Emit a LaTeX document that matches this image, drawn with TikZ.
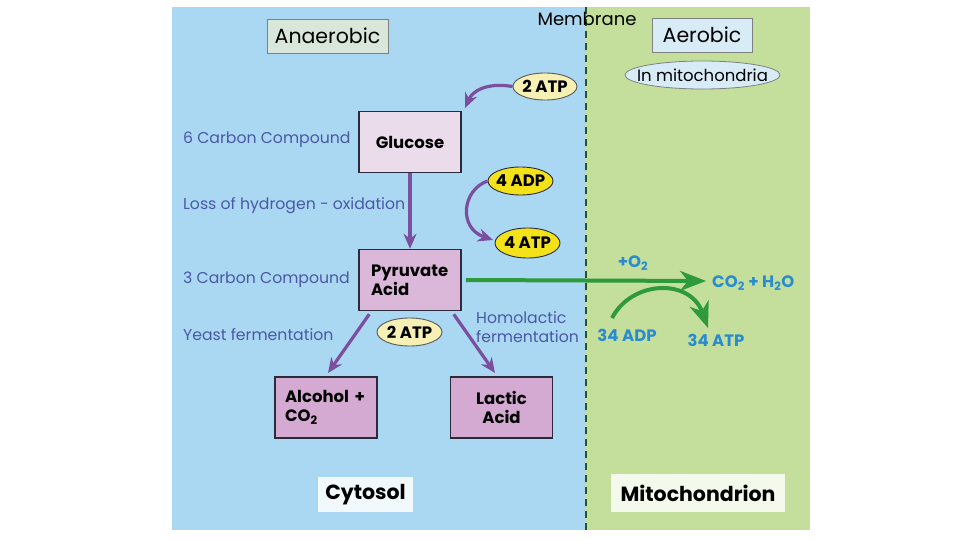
\documentclass[tikz,border=0pt]{standalone}
\usepackage{fontspec}
\setmainfont{Poppins}
\usetikzlibrary{arrows.meta,shapes.geometric}
\definecolor{bgblue}{HTML}{AAD8F2}
\definecolor{bggreen}{HTML}{C3DF9B}
\definecolor{boxpink}{HTML}{EADCEB}
\definecolor{boxmauve}{HTML}{D4A9D2}
\definecolor{lblblue}{HTML}{4A58A6}
\definecolor{cyanblue}{HTML}{2A8CCF}
\definecolor{arrpurple}{HTML}{7B4E9E}
\definecolor{arrgreen}{HTML}{2E9A3C}
\definecolor{paleyellow}{HTML}{F6F0B4}
\definecolor{strongyellow}{HTML}{F3E21A}
\definecolor{paleblue}{HTML}{D7ECF6}
\definecolor{palegreen}{HTML}{D9E7DA}
\definecolor{darkline}{HTML}{2A2A3A}
\tikzset{
  x=1pt,y=-1pt,
  every node/.style={font=\fontsize{12}{14}\selectfont, inner sep=0pt},
  cbox/.style={draw=darkline, line width=1.5pt, minimum width=102pt, minimum height=61pt},
  headbox/.style={draw=gray, line width=0.8pt, font=\fontsize{20.5}{22}\selectfont},
  lbl/.style={text=lblblue, anchor=west, font=\fontsize{15.7}{19}\selectfont},
  blbl/.style={text=cyanblue, font=\fontsize{16.5}{19}\selectfont\bfseries},
  oval/.style={ellipse, draw=gray!70!black, line width=0.9pt},
  ovaltext/.style={font=\fontsize{16.5}{19}\selectfont\bfseries},
  parr/.style={draw=arrpurple, line width=3.2pt, -{Stealth[length=15pt,width=13pt]}},
  garr/.style={draw=arrgreen, line width=4pt, -{Stealth[length=26pt,width=20pt,inset=8pt]}},
  region/.style={font=\fontsize{20.5}{23}\selectfont\bfseries},
  boxtext/.style={font=\fontsize{16.5}{19}\selectfont\bfseries}
}
\begin{document}
\begin{tikzpicture}
\useasboundingbox (0,0) rectangle (960,540);
\fill[white] (0,0) rectangle (960,540);
\fill[bgblue] (172,7) rectangle (586,530);
\fill[bggreen] (586,7) rectangle (810,530);
\draw[darkline!80!green, line width=1.2pt, dash pattern=on 7pt off 5pt] (586,7) -- (586,530);

% headers
\node[headbox, fill=palegreen, minimum width=121pt, minimum height=34pt] (anaer) at (327.5,36) {Anaerobic};
\node[headbox, fill=paleblue, minimum width=100pt, minimum height=34pt] (aer) at (702,35) {Aerobic};
\node[font=\fontsize{18}{20}\selectfont] (memb) at (587,19) {Membrane};
\node[ellipse, draw=gray, line width=0.8pt, fill=paleblue, minimum width=155pt, minimum height=28pt] (inmito) at (702.5,75) {};
\node[font=\fontsize{16.5}{19}\selectfont] (inmitot) at (inmito.center) {In mitochondria};

% boxes
\node[cbox, fill=boxpink, boxtext] (glu) at (410,142) {Glucose};
\node[cbox, fill=boxmauve!70!boxpink, align=left, boxtext, text width=78pt] (pyr) at (410,280) {Pyruvate\\Acid};
\node[cbox, fill=boxmauve, align=left, boxtext, text width=82pt] (alc) at (326,407.5) {Alcohol +\\CO\textsubscript{2}};
\node[cbox, fill=boxmauve, align=center, boxtext] (lac) at (501.5,407.5) {Lactic\\Acid};

% ovals
\node[oval, fill=paleyellow, minimum width=64pt, minimum height=27pt] (atpA) at (545,86.5) {};
\node[ovaltext] (atpAt) at (atpA.center) {2 ATP};
\node[oval, fill=strongyellow, draw=darkline, minimum width=65pt, minimum height=28pt] (adp4) at (520.5,181) {};
\node[ovaltext] (adp4t) at (adp4.center) {4 ADP};
\node[oval, fill=strongyellow, draw=darkline, minimum width=65pt, minimum height=30pt] (atp4) at (527.5,243) {};
\node[ovaltext] (atp4t) at (atp4.center) {4 ATP};
\node[oval, fill=paleyellow, minimum width=65pt, minimum height=28pt] (atpB) at (409.5,332) {};
\node[ovaltext] (atpBt) at (atpB.center) {2 ATP};

% side labels
\node[lbl] (l6c) at (183,140) {6 Carbon Compound};
\node[lbl] (lloss) at (183,206) {Loss of hydrogen - oxidation};
\node[lbl] (l3c) at (183,280) {3 Carbon Compound};
\node[lbl] (lyeast) at (183,335) {Yeast fermentation};
\node[lbl, align=left] (lhomo) at (476,327) {Homolactic\\fermentation};

% aerobic labels
\node[blbl] (o2) at (633,263) {+O\textsubscript{2}};
\node[blbl, anchor=west] (co2) at (712,283) {CO\textsubscript{2} + H\textsubscript{2}O};
\node[blbl] (adp34) at (627,335) {34 ADP};
\node[blbl] (atp34) at (716,340) {34 ATP};

% region labels
\node[region, fill=white!85!bgblue, minimum width=95pt, minimum height=35pt] (cyto) at (365.5,494.5) {Cytosol};
\node[region, fill=white!80!bggreen, minimum width=174pt, minimum height=38pt] (mito) at (698,493) {Mitochondrion};

% purple arrows
\draw[parr] (atpA.west) .. controls (485,82) and (472,92) .. (465,108);
\draw[parr] (adp4.west) .. controls (462,190) and (458,228) .. (493,240);
\draw[parr] (glu.south) -- (pyr.north);
\draw[parr] (pyr.south west) ++(11,3) coordinate (pa) -- (328,373);
\draw[parr] (pyr.south east) ++(-8,3) coordinate (pb) -- (495,373);

% green arrows
\coordinate (gend) at (706,281);
\draw[garr] (pyr.east) ++(4,0) coordinate (gs) -- (gend);
\draw[garr] (612,318) .. controls (632,280) and (690,278) .. (708,328);
\end{tikzpicture}
\end{document}
